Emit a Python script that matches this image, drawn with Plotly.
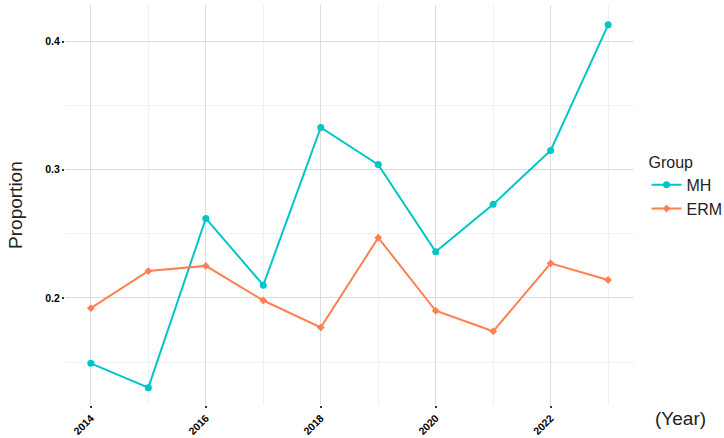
import plotly.graph_objects as go

years = [2014, 2015, 2016, 2017, 2018, 2019, 2020, 2021, 2022, 2023]
mh = [0.149, 0.130, 0.262, 0.210, 0.333, 0.304, 0.236, 0.273, 0.315, 0.413]
erm = [0.192, 0.221, 0.225, 0.198, 0.177, 0.247, 0.190, 0.174, 0.227, 0.214]

x_ticks = [2014, 2016, 2018, 2020, 2022]
y_ticks = [0.2, 0.3, 0.4]
y_tick_labels = ["0.2", "0.3", "0.4"]

MH_COLOR = "#00C5C8"
ERM_COLOR = "#FF7F50"

fig = go.Figure()
fig.add_trace(go.Scatter(
    x=years, y=mh, name="MH", mode="lines+markers",
    line=dict(color=MH_COLOR, width=2),
    marker=dict(color=MH_COLOR, size=7, symbol="circle"),
))
fig.add_trace(go.Scatter(
    x=years, y=erm, name="ERM", mode="lines+markers",
    line=dict(color=ERM_COLOR, width=2),
    marker=dict(color=ERM_COLOR, size=6, symbol="diamond"),
))

fig.update_layout(
    width=724, height=438,
    margin=dict(l=65, r=90, t=5, b=33, autoexpand=False),
    paper_bgcolor="white", plot_bgcolor="white",
    font=dict(family="Liberation Sans, Arial, sans-serif", color="black"),
    showlegend=True,
    legend=dict(
        x=1.022, y=0.645, xanchor="left", yanchor="top",
        title=dict(text="Group", font=dict(size=16, color="#222")),
        font=dict(size=16, color="#222"),
        bgcolor="rgba(0,0,0,0)",
        tracegroupgap=7,
    ),
    xaxis=dict(
        range=[2013.55, 2023.45],
        tickvals=x_ticks, ticktext=[str(v) for v in x_ticks],
        tickangle=-45,
        tickfont=dict(size=10.5, color="black", family="Liberation Sans, Arial, sans-serif", weight="bold"),
        ticks="outside", ticklen=2, tickwidth=2, tickcolor="#333",
        showgrid=True, gridcolor="#DCDCDC", gridwidth=1,
        minor=dict(dtick=1, tick0=2015, showgrid=True, gridcolor="#F0F0F0", gridwidth=1, ticks=""),
        zeroline=False, showline=False, automargin=False,
    ),
    yaxis=dict(
        range=[0.1165, 0.4285],
        tickvals=y_ticks, ticktext=y_tick_labels,
        tickfont=dict(size=10.5, color="black", family="Liberation Sans, Arial, sans-serif", weight="bold"),
        ticks="outside", ticklen=2, tickwidth=2, tickcolor="#333",
        showgrid=True, gridcolor="#DCDCDC", gridwidth=1,
        minor=dict(dtick=0.05, tick0=0.15, showgrid=True, gridcolor="#F0F0F0", gridwidth=1, ticks=""),
        zeroline=False, showline=False, automargin=False,
    ),
)

fig.add_annotation(
    text="Proportion", xref="paper", yref="paper",
    x=-0.088, y=0.5, textangle=-90, showarrow=False,
    font=dict(size=19, color="#222"), xanchor="center", yanchor="middle",
)
fig.add_annotation(
    text="(Year)", xref="paper", yref="paper",
    x=1.081, y=-0.0325, showarrow=False,
    font=dict(size=19, color="#222"), xanchor="center", yanchor="middle",
)

fig.write_html("out.html")
